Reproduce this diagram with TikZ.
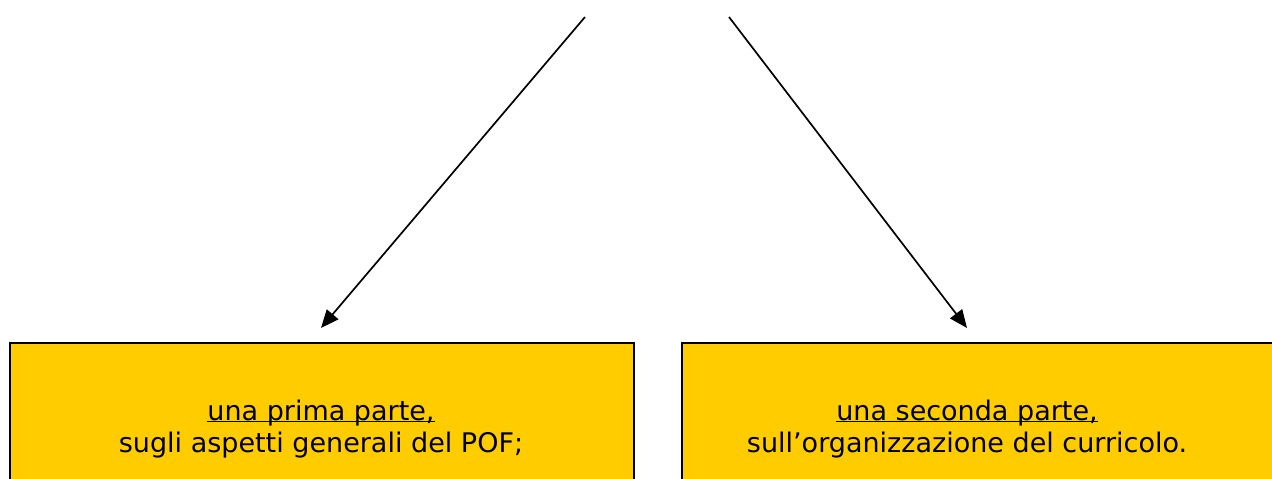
\documentclass[tikz,border=0pt]{standalone}
\usepackage{fontspec}
\setmainfont{DejaVu Sans}
\usetikzlibrary{arrows.meta,positioning}
\definecolor{partgold}{HTML}{FFCC00}
\tikzset{
  partbox/.style={draw=black, line width=2.4pt, fill=partgold,
    minimum height=200pt, inner sep=0pt, anchor=north west},
  parttext/.style={align=center, inner sep=0pt,
    font=\fontsize{27}{32}\selectfont},
  partarrow/.style={-{Triangle[length=18pt,width=15pt]}, line width=1.7pt}
}
\begin{document}
\begin{tikzpicture}[x=1pt,y=-1pt]
\useasboundingbox (0,0) rectangle (1272,479);

% --- Riquadri ---
\node[partbox, minimum width=624pt] (prima) at (9,342) {};
\node[partbox, minimum width=624pt] (seconda) at (681,342) {};

% --- Testi ---
\node[parttext] (primatesto) at (321,439)
  {\underline{\smash{una prima parte,}}\\sugli aspetti generali del POF;};
\node[parttext] (secondatesto) at (967,439)
  {\underline{\smash{una seconda parte,}}\\sull’organizzazione del curricolo.};

% --- Frecce ---
\coordinate (inizioA) at (585,17);
\coordinate (inizioB) at (729,17);
\draw[partarrow] (inizioA) -- ([yshift=14pt]prima.north -| primatesto);
\draw[partarrow] (inizioB) -- ([yshift=14pt]seconda.north -| secondatesto);

\end{tikzpicture}
\end{document}
